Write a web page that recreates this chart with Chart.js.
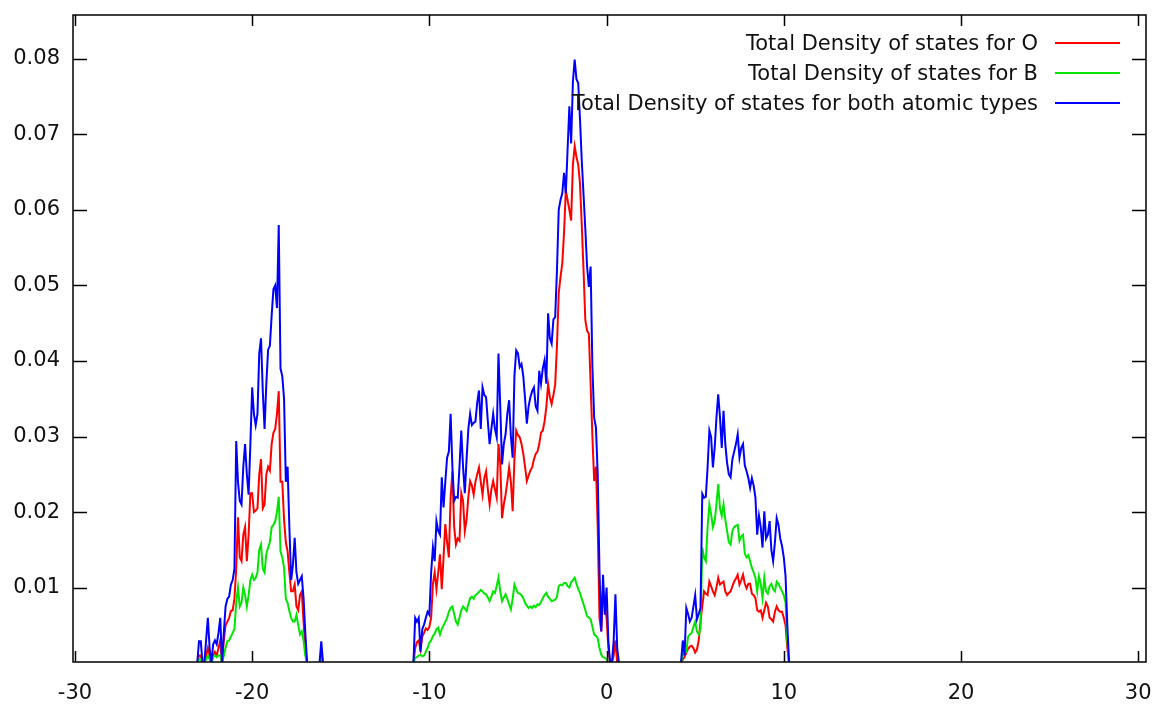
<!DOCTYPE html>
<html>
<head>
<meta charset="utf-8">
<title>Total Density of states</title>
<script src="https://cdn.jsdelivr.net/npm/chart.js@4.4.1/dist/chart.umd.min.js"></script>
<style>
    html, body { margin: 0; padding: 0; background: #fff; }
    canvas { display: block; }
</style>
</head>
<body>
<canvas id="dosChart" width="1157" height="704"></canvas>
<script>
// energies (eV), one band at a time
var energyBand1 = [-23.2,-23.1,-23.0,-22.9,-22.8,-22.7,-22.6,-22.5,-22.4,-22.3,
    -22.2,-22.1,-22.0,-21.9,-21.8,-21.7,-21.6,-21.5,-21.4,-21.3,
    -21.2,-21.1,-21.0,-20.9,-20.8,-20.7,-20.6,-20.5,-20.4,-20.3,
    -20.2,-20.1,-20.0,-19.9,-19.8,-19.7,-19.6,-19.5,-19.4,-19.3,
    -19.2,-19.1,-19.0,-18.9,-18.8,-18.7,-18.6,-18.5,-18.4,-18.3,
    -18.2,-18.1,-18.0,-17.9,-17.8,-17.7,-17.6,-17.5,-17.4,-17.3,
    -17.2,-17.1,-17.0,-16.9,-16.8,-16.7,-16.6,-16.5,-16.4,-16.3,
    -16.2,-16.1,-16.0];
var energyBand2 = [-10.9,-10.8,-10.7,-10.6,-10.5,-10.4,-10.3,-10.2,-10.1,-10.0,
    -9.9,-9.8,-9.7,-9.6,-9.5,-9.4,-9.3,-9.2,-9.1,-9.0,
    -8.9,-8.8,-8.7,-8.6,-8.5,-8.4,-8.3,-8.2,-8.1,-8.0,
    -7.9,-7.8,-7.7,-7.6,-7.5,-7.4,-7.3,-7.2,-7.1,-7.0,
    -6.9,-6.8,-6.7,-6.6,-6.5,-6.4,-6.3,-6.2,-6.1,-6.0,
    -5.9,-5.8,-5.7,-5.6,-5.5,-5.4,-5.3,-5.2,-5.1,-5.0,
    -4.9,-4.8,-4.7,-4.6,-4.5,-4.4,-4.3,-4.2,-4.1,-4.0,
    -3.9,-3.8,-3.7,-3.6,-3.5,-3.4,-3.3,-3.2,-3.1,-3.0,
    -2.9,-2.8,-2.7,-2.6,-2.5,-2.4,-2.3,-2.2,-2.1,-2.0,
    -1.9,-1.8,-1.7,-1.6,-1.5,-1.4,-1.3,-1.2,-1.1,-1.0,
    -0.9,-0.8,-0.7,-0.6,-0.5,-0.4,-0.3,-0.2,-0.1,0.0,
    0.1,0.2,0.3,0.4,0.5,0.6,0.7];
var energyBand3 = [4.2,4.3,4.4,4.5,4.6,4.7,4.8,4.9,5.0,5.1,
    5.2,5.3,5.4,5.5,5.6,5.7,5.8,5.9,6.0,6.1,
    6.2,6.3,6.4,6.5,6.6,6.7,6.8,6.9,7.0,7.1,
    7.2,7.3,7.4,7.5,7.6,7.7,7.8,7.9,8.0,8.1,
    8.2,8.3,8.4,8.5,8.6,8.7,8.8,8.9,9.0,9.1,
    9.2,9.3,9.4,9.5,9.6,9.7,9.8,9.9,10.0,10.1,
    10.2,10.3,10.4];

// Total DOS for O
var dosO1 = [0,0,0.001,0.001,0,0,0.001,0.002,0.001,0,
    0.001,0.0015,0.001,0.002,0.003,0,0.003,0.005,0.0055,0.006,
    0.0069,0.007,0.0085,0.0125,0.0193,0.014,0.0135,0.017,0.018,0.0135,
    0.017,0.0225,0.0225,0.02,0.0202,0.0205,0.025,0.027,0.0205,0.021,
    0.025,0.026,0.0255,0.029,0.0305,0.031,0.033,0.036,0.024,0.024,
    0.019,0.016,0.0148,0.012,0.0095,0.0095,0.0104,0.0075,0.007,0.009,
    0.0095,0.0055,0.002,0,0,0,0,0,0,0,
    0,0.001,0];
var dosO2 = [0,0.002,0.0028,0.003,0.0018,0.0035,0.004,0.0046,0.0044,0.0048,
    0.006,0.0105,0.012,0.0098,0.012,0.0144,0.0098,0.014,0.0184,0.016,
    0.014,0.022,0.0254,0.018,0.0157,0.0165,0.0162,0.0225,0.0215,0.0175,
    0.019,0.022,0.0241,0.0235,0.0223,0.024,0.025,0.0259,0.024,0.0223,
    0.0245,0.0254,0.023,0.021,0.023,0.0241,0.023,0.0219,0.029,0.0265,
    0.0192,0.021,0.0223,0.024,0.0259,0.024,0.0201,0.027,0.0308,0.0302,
    0.0299,0.029,0.0277,0.026,0.0241,0.0248,0.0255,0.0259,0.027,0.0277,
    0.028,0.029,0.0305,0.0308,0.032,0.0339,0.0369,0.0352,0.0343,0.0355,
    0.0369,0.042,0.049,0.0511,0.0529,0.057,0.0626,0.0613,0.06,0.0586,
    0.066,0.0684,0.067,0.066,0.0635,0.058,0.052,0.0454,0.044,0.0436,
    0.0369,0.03,0.0241,0.026,0.018,0.006,0.0042,0.0095,0.0077,0.006,
    0.002,0,0,0.001,0.003,0,0];
var dosO3 = [0,0.0005,0.0008,0.0014,0.0019,0.0022,0.0023,0.002,0.0014,0.0018,
    0.003,0.0055,0.0075,0.0095,0.0092,0.009,0.0108,0.0102,0.0095,0.009,
    0.01,0.0113,0.0104,0.0106,0.0108,0.0095,0.009,0.0093,0.0095,0.0102,
    0.0108,0.0112,0.0117,0.0104,0.011,0.0117,0.0105,0.0099,0.0105,0.0105,
    0.0092,0.009,0.0086,0.007,0.0068,0.007,0.006,0.007,0.008,0.0075,
    0.006,0.0058,0.0055,0.0068,0.0075,0.007,0.0068,0.0068,0.006,0.005,
    0.002,0,0];

// Total DOS for B
var dosB1 = [0,0,0.0005,0.0005,0,0,0.0005,0.001,0.0005,0,
    0.0008,0.001,0.0008,0.001,0.001,0,0.001,0.002,0.0029,0.003,
    0.0035,0.004,0.0045,0.008,0.01,0.0075,0.008,0.01,0.009,0.0075,
    0.009,0.011,0.0117,0.011,0.0113,0.012,0.015,0.0157,0.0125,0.012,
    0.0145,0.0153,0.016,0.018,0.0183,0.0188,0.02,0.022,0.0148,0.014,
    0.0126,0.0085,0.008,0.0069,0.006,0.0055,0.0055,0.0064,0.005,0.0038,
    0.0042,0.003,0.001,0,0,0,0,0,0,0,
    0,0.0005,0];
var dosB2 = [0,0.0007,0.0008,0.001,0.0011,0.0009,0.001,0.0015,0.002,0.0027,
    0.003,0.0036,0.0039,0.0045,0.0047,0.0038,0.0045,0.005,0.0055,0.006,
    0.0068,0.0073,0.0075,0.0065,0.0055,0.0051,0.006,0.007,0.0075,0.0072,
    0.0069,0.0078,0.0086,0.0088,0.0085,0.009,0.0092,0.0094,0.0097,0.0095,
    0.0092,0.0091,0.0087,0.0082,0.0088,0.0095,0.0093,0.0102,0.0113,0.0095,
    0.0082,0.0087,0.0091,0.0085,0.0078,0.0071,0.0085,0.0104,0.0098,0.0093,
    0.0092,0.009,0.0086,0.008,0.0076,0.0073,0.0075,0.0073,0.0076,0.0074,
    0.0078,0.0077,0.0081,0.0086,0.009,0.0093,0.0088,0.0085,0.0082,0.0083,
    0.0084,0.0088,0.0102,0.0104,0.0103,0.0106,0.0106,0.0102,0.01,0.0107,
    0.011,0.0113,0.0105,0.0098,0.0093,0.0085,0.0078,0.007,0.0062,0.006,
    0.0058,0.0048,0.0038,0.0036,0.0033,0.002,0.0011,0.0008,0.0007,0.0005,
    0,0,0,0,0,0,0];
var dosB3 = [0,0.0012,0.0013,0.0015,0.0035,0.0038,0.004,0.0048,0.0055,0.0042,
    0.0038,0.0045,0.0153,0.014,0.0135,0.018,0.021,0.0197,0.018,0.0188,
    0.021,0.0237,0.0205,0.0195,0.021,0.019,0.0175,0.016,0.0157,0.0175,
    0.018,0.0182,0.0183,0.0162,0.0168,0.017,0.0145,0.014,0.0143,0.0135,
    0.0126,0.012,0.0113,0.0095,0.0115,0.0105,0.0086,0.0113,0.0095,0.0092,
    0.0102,0.0105,0.0098,0.0095,0.0108,0.0105,0.01,0.0095,0.009,0.008,
    0.003,0,0];

// Total DOS for both atomic types
var dosBoth1 = [0,0,0.0029,0.0029,0,0,0.003,0.006,0.002,0,
    0.0025,0.003,0.0025,0.004,0.006,0,0.004,0.0075,0.0085,0.0088,
    0.0104,0.011,0.0125,0.0294,0.024,0.0215,0.021,0.026,0.029,0.025,
    0.0223,0.029,0.0365,0.033,0.0315,0.033,0.041,0.043,0.036,0.031,
    0.037,0.0415,0.042,0.046,0.0495,0.05,0.047,0.058,0.039,0.038,
    0.035,0.024,0.026,0.018,0.011,0.013,0.0166,0.012,0.0105,0.011,
    0.0115,0.0086,0.004,0,0,0,0,0,0,0,
    0,0.0029,0];
var dosBoth2 = [0,0.006,0.0055,0.006,0.0015,0.0045,0.0051,0.006,0.0068,0.0064,
    0.012,0.0153,0.0135,0.0188,0.0175,0.017,0.0246,0.0206,0.024,0.0272,
    0.028,0.033,0.0259,0.0215,0.022,0.0219,0.026,0.0308,0.026,0.0225,
    0.027,0.031,0.033,0.0315,0.0318,0.032,0.0345,0.0361,0.031,0.0365,
    0.0355,0.0352,0.032,0.029,0.031,0.033,0.031,0.0299,0.041,0.034,
    0.0263,0.029,0.0303,0.033,0.0348,0.03,0.0272,0.038,0.0414,0.041,
    0.0392,0.0396,0.038,0.035,0.0317,0.034,0.0352,0.036,0.0365,0.034,
    0.0334,0.0387,0.037,0.039,0.0401,0.037,0.0463,0.043,0.0423,0.0455,
    0.0458,0.052,0.06,0.0613,0.0622,0.0649,0.0622,0.068,0.0737,0.0688,
    0.077,0.0799,0.0773,0.0768,0.072,0.0665,0.062,0.0575,0.0525,0.0498,
    0.0525,0.0392,0.0325,0.0312,0.025,0.0122,0.0042,0.0117,0.0064,0.01,
    0.003,0,0,0.003,0.0091,0.002,0];
var dosBoth3 = [0,0.003,0.001,0.0073,0.0065,0.0055,0.006,0.0075,0.009,0.0058,
    0.0065,0.0073,0.0224,0.0219,0.022,0.0259,0.0308,0.0299,0.0259,0.0285,
    0.0325,0.0356,0.0325,0.0285,0.0334,0.029,0.0265,0.025,0.0246,0.027,
    0.028,0.029,0.0303,0.0272,0.0285,0.029,0.0262,0.0254,0.0245,0.0232,
    0.0245,0.0235,0.0219,0.017,0.0195,0.018,0.0153,0.0201,0.0165,0.017,
    0.0188,0.015,0.0135,0.016,0.0192,0.0183,0.0165,0.0155,0.014,0.0115,
    0.005,0,0];

var xTicks = [-30, -20, -10, 0, 10, 20, 30];
var yTicks = [0.01, 0.02, 0.03, 0.04, 0.05, 0.06, 0.07, 0.08];
var seriesNames = ['Total Density of states for O', 'Total Density of states for B',
    'Total Density of states for both atomic types'];
var seriesColors = ['rgb(255, 0, 0)', 'rgb(0, 230, 0)', 'rgb(0, 0, 255)'];

var energies = [-30.1].concat(energyBand1, energyBand2, energyBand3, [30.4]);
var dosO = [0].concat(dosO1, dosO2, dosO3, [0]);
var dosB = [0].concat(dosB1, dosB2, dosB3, [0]);
var dosBoth = [0].concat(dosBoth1, dosBoth2, dosBoth3, [0]);

if (dosO.length != energies.length || dosB.length != energies.length || dosBoth.length != energies.length) {
    console.log("length mismatch", energies.length, dosO.length, dosB.length, dosBoth.length);
}

function toPoints(values) {
    return energies.map(function (e, i) { return { x: e, y: values[i] }; });
}

var fontName = '"DejaVu Sans", sans-serif';

// gnuplot style: frame with inward ticks on all four sides
var framePlugin = {
    id: 'frame',
    afterDatasetsDraw: function (chart) {
        var ctx = chart.ctx;
        var a = chart.chartArea;
        var xs = chart.scales.x;
        var ys = chart.scales.y;
        ctx.save();
        ctx.strokeStyle = '#000';
        ctx.lineWidth = 1.5;
        ctx.beginPath();
        xTicks.forEach(function (v) {
            var px = Math.round(xs.getPixelForValue(v)) + 0.5;
            ctx.moveTo(px, a.bottom); ctx.lineTo(px, a.bottom - 11);
            ctx.moveTo(px, a.top); ctx.lineTo(px, a.top + 11);
        });
        yTicks.forEach(function (v) {
            var py = Math.round(ys.getPixelForValue(v)) + 0.5;
            ctx.moveTo(a.left, py); ctx.lineTo(a.left + 14, py);
            ctx.moveTo(a.right, py); ctx.lineTo(a.right - 14, py);
        });
        ctx.stroke();
        ctx.strokeRect(a.left, a.top, a.right - a.left, a.bottom - a.top);

        // key: text right aligned, sample line on its right
        ctx.font = '21px ' + fontName;
        ctx.textAlign = 'right';
        ctx.textBaseline = 'middle';
        chart.data.datasets.forEach(function (ds, i) {
            var y = a.top + 30 + i * 30;
            ctx.fillStyle = '#111';
            ctx.fillText(ds.label, a.right - 108, y);
            ctx.strokeStyle = ds.borderColor;
            ctx.lineWidth = 2;
            ctx.beginPath();
            ctx.moveTo(a.right - 91, y - 2);
            ctx.lineTo(a.right - 26, y - 2);
            ctx.stroke();
        });
        ctx.restore();
    }
};

var ctx = document.getElementById('dosChart');

var data = {
    datasets: [{
        label: seriesNames[0],
        data: toPoints(dosO),
        borderColor: seriesColors[0],
        order: 3
    }, {
        label: seriesNames[1],
        data: toPoints(dosB),
        borderColor: seriesColors[1],
        order: 2
    }, {
        label: seriesNames[2],
        data: toPoints(dosBoth),
        borderColor: seriesColors[2],
        order: 1
    }]
};

var option = {
    responsive: false,
    animation: false,
    layout: {
        padding: { left: 0, right: 11, top: 15, bottom: 0 }
    },
    elements: {
        line: { borderWidth: 2, tension: 0, fill: false },
        point: { radius: 0, hoverRadius: 0 }
    },
    plugins: {
        legend: { display: false },
        tooltip: { enabled: false }
    },
    scales: {
        x: {
            type: 'linear',
            min: -30.11,
            max: 30.44,
            grid: { display: false, drawTicks: false },
            border: { display: false },
            afterBuildTicks: function (scale) {
                scale.ticks = xTicks.map(function (v) { return { value: v }; });
            },
            afterFit: function (scale) {
                scale.height = 42;
                scale.paddingLeft = 0;
                scale.paddingRight = 0;
            },
            ticks: {
                padding: 19,
                color: '#111',
                maxRotation: 0,
                font: { family: fontName, size: 21 },
                callback: function (v) { return String(v); }
            }
        },
        y: {
            type: 'linear',
            min: 0.00015,
            max: 0.0858,
            grid: { display: false, drawTicks: false },
            border: { display: false },
            afterBuildTicks: function (scale) {
                scale.ticks = yTicks.map(function (v) { return { value: v }; });
            },
            afterFit: function (scale) {
                scale.width = 73;
                scale.paddingTop = 0;
                scale.paddingBottom = 0;
            },
            ticks: {
                padding: 13,
                color: '#111',
                font: { family: fontName, size: 21 },
                callback: function (v) { return v.toFixed(2); }
            }
        }
    }
};

var myChart = new Chart(ctx, {
    type: 'line',
    data: data,
    options: option,
    plugins: [framePlugin]
});
</script>
</body>
</html>
